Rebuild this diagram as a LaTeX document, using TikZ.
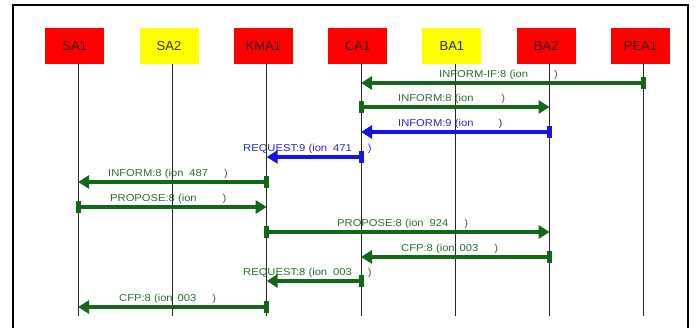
\documentclass[tikz,border=0pt]{standalone}
\usepackage{fontspec}
\setmainfont{Liberation Sans}
\newfontfamily\lblfont[FakeStretch=1.12]{Liberation Sans}
\usetikzlibrary{arrows.meta}
\definecolor{msggreen}{RGB}{16,104,24}
\definecolor{msgblue}{RGB}{20,20,230}
\definecolor{lblgreen}{RGB}{40,110,45}
\definecolor{lblblue}{RGB}{40,40,190}
\definecolor{boxred}{RGB}{255,0,0}
\definecolor{boxyellow}{RGB}{255,255,0}
\tikzset{
  agent/.style={minimum width=59pt,minimum height=36pt,inner sep=0pt,
    font=\fontsize{13}{13}\selectfont,text=black!85},
  redagent/.style={agent,fill=boxred},
  yellowagent/.style={agent,fill=boxyellow},
  lifeline/.style={draw=black!85,line width=0.9pt},
  msg/.style={line width=3.2pt,{Rectangle[length=5pt,width=12pt]}-{Triangle[length=11pt,width=13pt]},shorten <=-2.5pt},
  greenmsg/.style={msg,draw=msggreen,fill=msggreen},
  bluemsg/.style={msg,draw=msgblue,fill=msgblue},
  lbl/.style={anchor=base west,inner sep=0pt,font=\lblfont\fontsize{10}{10}\selectfont},
  greenlbl/.style={lbl,text=lblgreen},
  bluelbl/.style={lbl,text=lblblue},
  frame/.style={draw=black,line width=2pt}
}
\begin{document}
\begin{tikzpicture}[x=1pt,y=-1pt]
\useasboundingbox (0,0) rectangle (696,328);
\fill[white] (0,0) rectangle (696,328);
% frame
\coordinate (ftl) at (13,5);
\coordinate (ftr) at (688,5);
\coordinate (fbl) at (13,328);
\coordinate (fbr) at (688,328);
\draw[frame] (fbl) -- (ftl) -- (ftr) -- (fbr);
% agents
\node[redagent]    (sa1)  at (74.7,46)  {SA1};
\node[yellowagent] (sa2)  at (169,46) {SA2};
\node[redagent]    (kma1) at (263.3,46) {KMA1};
\node[redagent]    (ca1)  at (357.6,46) {CA1};
\node[yellowagent] (ba1)  at (451.9,46) {BA1};
\node[redagent]    (ba2)  at (546.2,46) {BA2};
\node[redagent]    (pea1) at (640.5,46) {PEA1};
% labels
\node[greenlbl] (l1)  at (439,77.5)  {INFORM-IF:8 (ion\hspace{26pt})};
\node[greenlbl] (l2)  at (398,101.5) {INFORM:8 (ion\hspace{28pt})};
\node[bluelbl]  (l3)  at (398,126.5) {INFORM:9 (ion\hspace{25pt})};
\node[bluelbl]  (l4)  at (243,151.5) {REQUEST:9 (ion\hspace{6pt}471\hspace{16pt})};
\node[greenlbl] (l5)  at (108,176.5) {INFORM:8 (ion\hspace{6pt}487\hspace{16pt})};
\node[greenlbl] (l6)  at (110,201.5) {PROPOSE:8 (ion\hspace{26pt})};
\node[greenlbl] (l7)  at (337,226.5) {PROPOSE:8 (ion\hspace{6pt}924\hspace{16pt})};
\node[greenlbl] (l8)  at (401,251.5) {CFP:8 (ion\hspace{5pt}003\hspace{16pt})};
\node[greenlbl] (l9)  at (243,275.5) {REQUEST:8 (ion\hspace{6pt}003\hspace{16pt})};
\node[greenlbl] (l10) at (119,301.5) {CFP:8 (ion\hspace{5pt}003\hspace{16pt})};
% lifelines
\foreach \a in {sa1,sa2,kma1,ca1,ba1,ba2,pea1}{
  \coordinate (\a-top) at ([xshift=3.4pt]\a.south);
  \coordinate (\a-end) at (\a-top |- 0,316);
  \draw[lifeline] (\a-top) -- (\a-end);
}
% messages
\draw[greenmsg] (pea1-top |- 0,83)  -- (ca1-top |- 0,83);
\draw[greenmsg] (ca1-top |- 0,107)  -- (ba2-top |- 0,107);
\draw[bluemsg]  (ba2-top |- 0,132)  -- (ca1-top |- 0,132);
\draw[bluemsg]  (ca1-top |- 0,157)  -- (kma1-top |- 0,157);
\draw[greenmsg] (kma1-top |- 0,182) -- (sa1-top |- 0,182);
\draw[greenmsg] (sa1-top |- 0,207)  -- (kma1-top |- 0,207);
\draw[greenmsg] (kma1-top |- 0,232) -- (ba2-top |- 0,232);
\draw[greenmsg] (ba2-top |- 0,257)  -- (ca1-top |- 0,257);
\draw[greenmsg] (ca1-top |- 0,281)  -- (kma1-top |- 0,281);
\draw[greenmsg] (kma1-top |- 0,307) -- (sa1-top |- 0,307);
\end{tikzpicture}
\end{document}
